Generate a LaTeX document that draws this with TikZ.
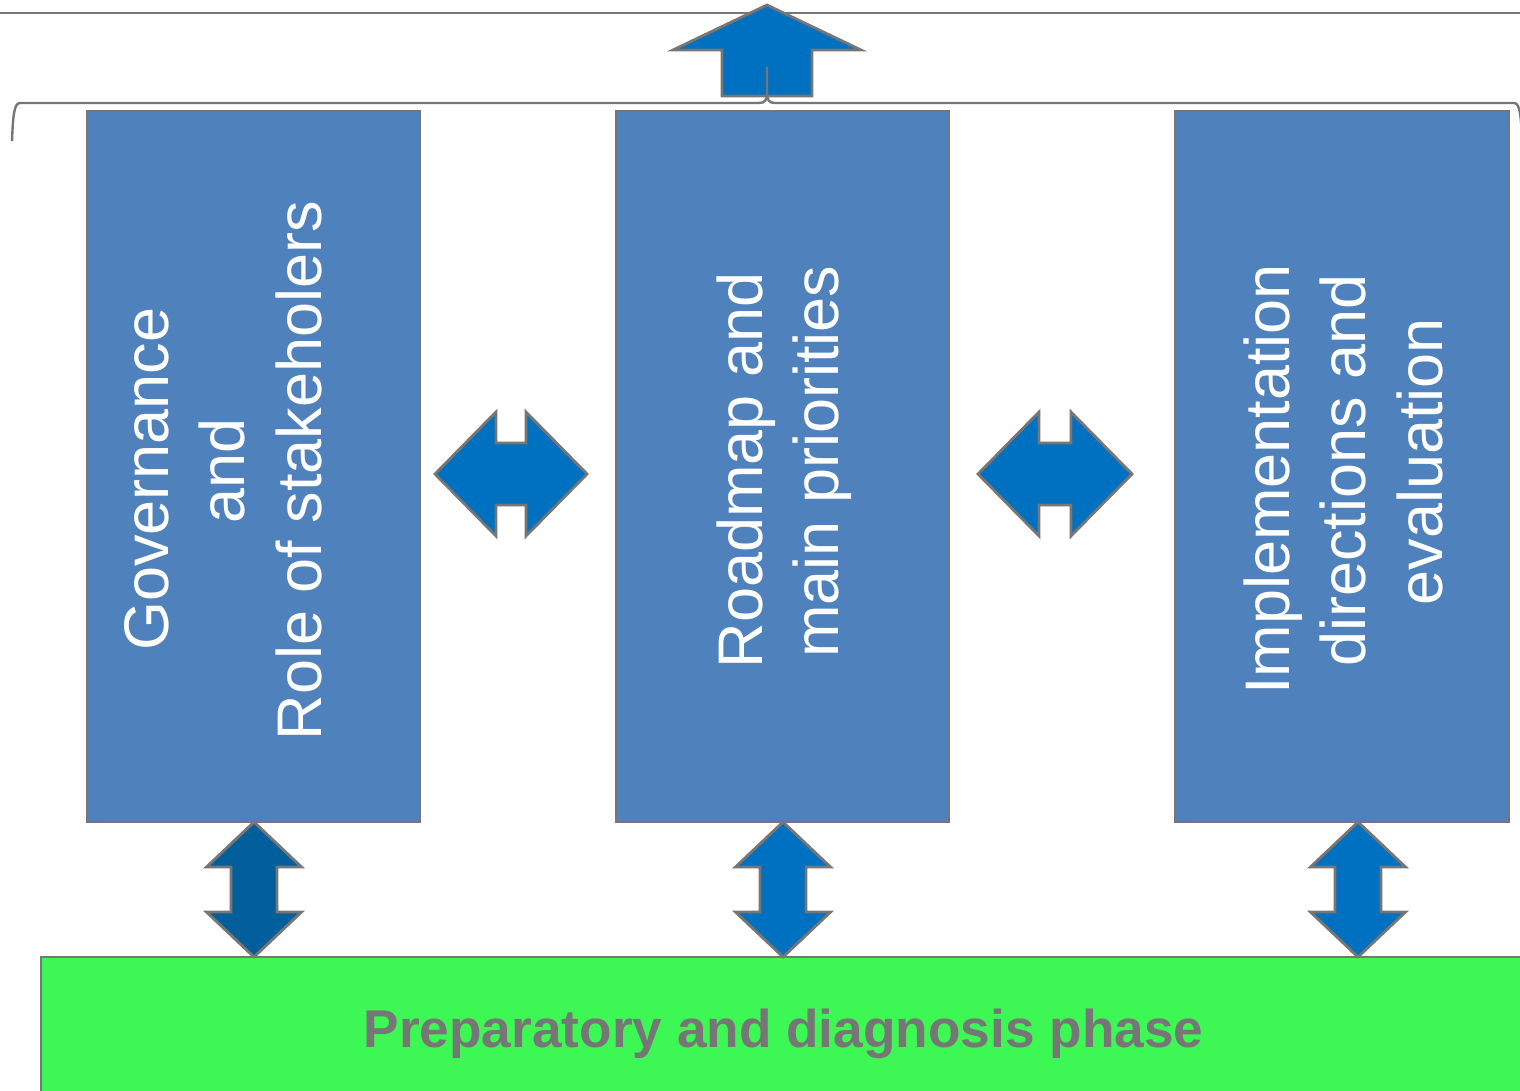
\documentclass[tikz,border=0pt]{standalone}
\usepackage{fontspec}
\newfontfamily\arialish{Liberation Sans}
\definecolor{boxblue}{HTML}{4F81BD}
\definecolor{arrowblue}{HTML}{0070C0}
\definecolor{arrowdark}{HTML}{035F9B}
\definecolor{edgegray}{HTML}{767676}
\definecolor{phasegreen}{HTML}{3DF854}

% vertical double block arrow between a stage box (y=822) and the phase bar (y=957)
\newcommand\vdblarrow[2]{%
  \draw[blockarrow, fill=#2]
    (#1,822) -- ({#1+47.5},867) -- ({#1+23},867) -- ({#1+23},912) -- ({#1+47.5},912)
    -- (#1,957) -- ({#1-47.5},912) -- ({#1-23},912) -- ({#1-23},867) -- ({#1-47.5},867) -- cycle;}
% horizontal double block arrow, left tip #1, right tip #2, centred on y=474
\newcommand\hdblarrow[2]{%
  \draw[blockarrow]
    (#1,474) -- ({#1+61},412) -- ({#1+61},443) -- ({#2-61},443) -- ({#2-61},412)
    -- (#2,474) -- ({#2-61},536) -- ({#2-61},505) -- ({#1+61},505) -- ({#1+61},536) -- cycle;}

\tikzset{
  stage/.style={draw=edgegray, line width=1.3pt, fill=boxblue, inner sep=0pt,
    minimum width=166.5pt, minimum height=355.5pt},
  stagetext/.style={rotate=90, text=white, align=center, inner sep=0pt,
    font=\arialish\fontsize{31.5pt}{38.25pt}\selectfont},
  blockarrow/.style={draw=edgegray, line width=1.4pt, fill=arrowblue, line join=miter},
  bracestyle/.style={draw=edgegray, line width=1.2pt},
  phase/.style={draw=edgegray, line width=1.3pt, fill=phasegreen, inner sep=0pt,
    minimum width=742.5pt, minimum height=70.5pt},
  phasetext/.style={text=edgegray, inner sep=0pt,
    font=\arialish\bfseries\fontsize{26.6pt}{32pt}\selectfont},
}

\begin{document}
\begin{tikzpicture}[x=0.5pt, y=-0.5pt]
  \useasboundingbox (0,0) rectangle (1520,1091);
  \clip (0,0) rectangle (1520,1091);

  % rule along the top
  \draw[edgegray, line width=1.2pt] (0,13) -- (1520,13);

  % upward block arrow
  \draw[blockarrow] (767,5) -- (861,50) -- (812,50) -- (812,96) -- (722,96)
    -- (722,50) -- (673,50) -- cycle;

  % brace gathering the three stages
  \draw[bracestyle] (12,141) .. controls (13,116) and (14,103) .. (20,103) -- (759,103)
    .. controls (765,103) and (767,100) .. (767,93) -- (767,67);
  \draw[bracestyle] (767,93) .. controls (767,100) and (769,103) .. (775,103) -- (1514,103)
    .. controls (1520,103) and (1521,116) .. (1522,141);

  % the three stages
  \node[stage] (b1) at (253.5,466.5) {};
  \node[stage] (b2) at (782.5,466.5) {};
  \node[stage, minimum width=167pt] (b3) at (1342,466.5) {};

  \node[stagetext] (t1) at (223,470.5)
    {Governance\rule{0.28em}{0pt}\\and\\Role of stakeholers};
  \node[stagetext] (t2) at (784,470.5)
    {Roadmap and\\\rule{0.28em}{0pt}main priorities};
  \node[stagetext] (t3) at (1343,470.5)
    {Implementation\rule{0.28em}{0pt}\\directions and\\\rule{0.28em}{0pt}evaluation};

  % links between neighbouring stages
  \hdblarrow{435}{587}
  \hdblarrow{978}{1132}

  % phase bar at the bottom
  \node[phase] (g) at (783.5,1027.5) {};
  \node[phasetext, anchor=base] (gt) at (783.5,1047) {Preparatory and diagnosis phase};

  % links from each stage to the phase bar
  \vdblarrow{254}{arrowdark}
  \vdblarrow{783}{arrowblue}
  \vdblarrow{1358}{arrowblue}
\end{tikzpicture}
\end{document}
